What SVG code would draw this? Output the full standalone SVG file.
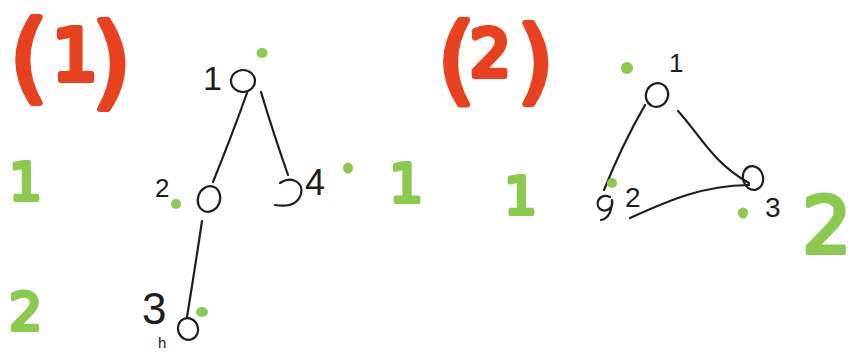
<svg xmlns="http://www.w3.org/2000/svg" width="854" height="353" viewBox="0 0 854 353">
  <style>
    .ink { fill: none; stroke: #1e1e1e; stroke-width: 2.2; stroke-linecap: round; stroke-linejoin: round; }
    .lbl { font-family: "Liberation Sans", Arial, sans-serif; fill: #1e1e1e; }
    .red { font-family: "DejaVu Sans", sans-serif; fill: #e8411f; stroke: #e8411f; stroke-width: 6; stroke-linejoin: round; stroke-linecap: round; }
    .grn { font-family: "DejaVu Sans", sans-serif; fill: #8cc94e; stroke: #8cc94e; stroke-width: 4; stroke-linejoin: round; }
    .dot { fill: #8cc94e; }
  </style>
  <rect width="854" height="353" fill="#ffffff"/>

  <!-- section headings -->
  <g id="heading-1">
    <text class="red" x="10" y="90" font-size="96">(<tspan x="52" y="80" font-size="72">1</tspan><tspan x="92" y="96" font-size="100">)</tspan></text>
  </g>
  <g id="heading-2">
    <text class="red" x="438" y="92" font-size="94">(<tspan x="470" y="76" font-size="64">2</tspan><tspan x="518" y="92" font-size="90">)</tspan></text>
  </g>

  <!-- green margin numbers -->
  <g id="marks">
    <text class="grn" x="9" y="200" font-size="52">1</text>
    <text class="grn" x="9" y="330" font-size="52">2</text>
    <text class="grn" x="389" y="202" font-size="54">1</text>
    <text class="grn" x="504" y="214" font-size="52">1</text>
    <text class="grn" x="802" y="253" font-size="78">2</text>
  </g>

  <!-- connectors -->
  <g id="edges" class="ink">
    <path d="M 247 93 Q 232 135 213 182"/>
    <path d="M 261 92 Q 273 132 288 175"/>
    <path d="M 202 221 Q 195 268 187 317"/>
    <path d="M 645 105 Q 622 145 604 190"/>
    <path d="M 678 111 C 700 135 712 162 749 183"/>
    <path d="M 630 218 C 672 199 702 186 749 185"/>
  </g>

  <!-- tree (1) -->
  <g id="t1-node1">
    <ellipse class="ink" cx="243" cy="81" rx="12" ry="11"/>
    <text class="lbl" x="203" y="90" font-size="34">1</text>
    <ellipse class="dot" cx="262" cy="53" rx="5.5" ry="5"/>
  </g>
  <g id="t1-node2">
    <ellipse class="ink" cx="209" cy="199" rx="11" ry="13" transform="rotate(20 209 199)"/>
    <text class="lbl" x="155" y="197" font-size="26">2</text>
    <ellipse class="dot" cx="176" cy="204" rx="5" ry="5"/>
  </g>
  <g id="t1-node4">
    <path class="ink" d="M 280 183 C 292 175 304 183 301 194 C 298 204 288 207 275 205"/>
    <text class="lbl" x="305" y="195" font-size="36">4</text>
    <ellipse class="dot" cx="348" cy="168" rx="5" ry="5.5"/>
  </g>
  <g id="t1-node3">
    <ellipse class="ink" cx="188" cy="329" rx="10" ry="11" transform="rotate(-20 188 329)"/>
    <text class="lbl" x="142" y="324" font-size="44">3</text>
    <text class="lbl" x="158" y="348" font-size="15">h</text>
    <ellipse class="dot" cx="202" cy="312" rx="6" ry="5"/>
  </g>

  <!-- triangle (2) -->
  <g id="t2-node1">
    <ellipse class="ink" cx="657" cy="95" rx="11" ry="12" transform="rotate(25 657 95)"/>
    <text class="lbl" x="669" y="72" font-size="26">1</text>
    <ellipse class="dot" cx="627" cy="68" rx="6" ry="6"/>
  </g>
  <g id="t2-node2">
    <path class="ink" d="M 610 197 C 600 193 594 203 600 209 C 606 213 614 208 612 200 C 612 210 610 218 601 220"/>
    <text class="lbl" x="625" y="207" font-size="28">2</text>
    <ellipse class="dot" cx="612" cy="183" rx="5" ry="5"/>
  </g>
  <g id="t2-node3">
    <ellipse class="ink" cx="753" cy="178" rx="10" ry="12" transform="rotate(-15 753 178)"/>
    <text class="lbl" x="765" y="217" font-size="28">3</text>
    <ellipse class="dot" cx="743" cy="213" rx="5" ry="5.5"/>
  </g>
</svg>
